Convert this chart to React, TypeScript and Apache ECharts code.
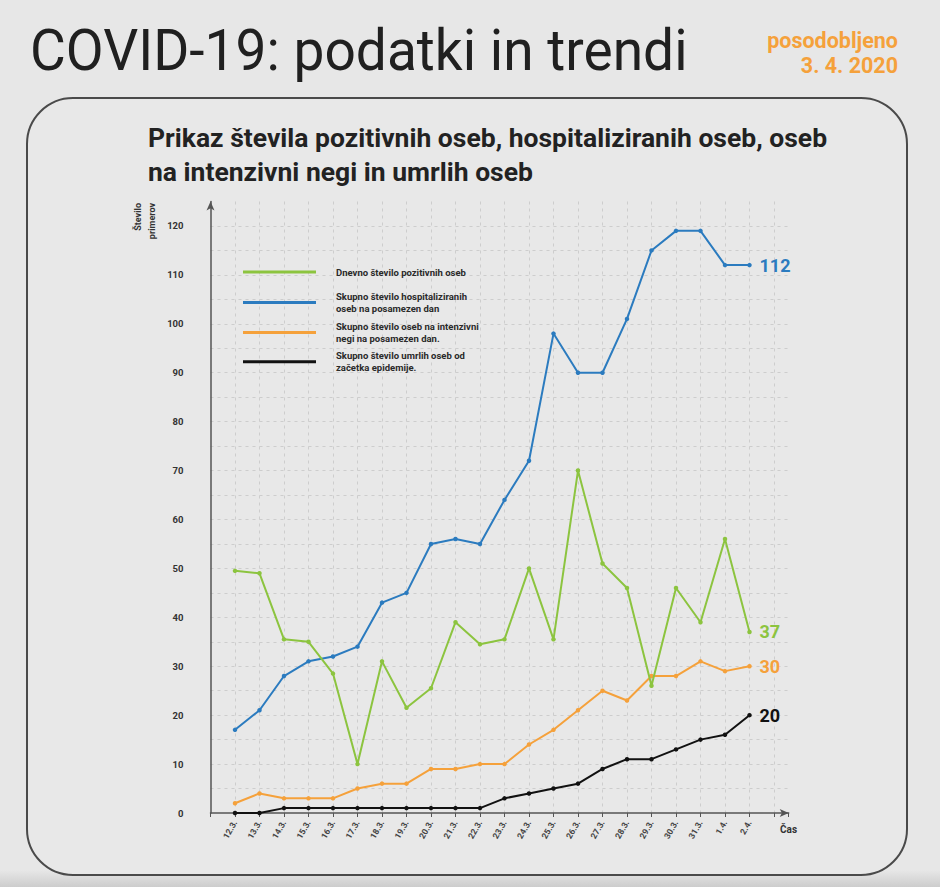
import React, { useEffect, useRef } from "react";
import * as echarts from "echarts";

const categories = ["12.3.", "13.3.", "14.3.", "15.3.", "16.3.", "17.3.", "18.3.", "19.3.", "20.3.", "21.3.", "22.3.", "23.3.", "24.3.", "25.3.", "26.3.", "27.3.", "28.3.", "29.3.", "30.3.", "31.3.", "1.4.", "2.4."];
const positive = [49.5, 49, 35.5, 35, 28.5, 10, 31, 21.5, 25.5, 39, 34.5, 35.5, 50, 35.5, 70, 51, 46, 26, 46, 39, 56, 37];
const hospitalized = [17, 21, 28, 31, 32, 34, 43, 45, 55, 56, 55, 64, 72, 98, 90, 90, 101, 115, 119, 119, 112, 112];
const icu = [2, 4, 3, 3, 3, 5, 6, 6, 9, 9, 10, 10, 14, 17, 21, 25, 23, 28, 28, 31, 29, 30];
const deaths = [0, 0, 1, 1, 1, 1, 1, 1, 1, 1, 1, 3, 4, 5, 6, 9, 11, 11, 13, 15, 16, 20];

const seriesNames = [
  "Dnevno število pozitivnih oseb",
  "Skupno število hospitaliziranih\noseb na posamezen dan",
  "Skupno število oseb na intenzivni\nnegi na posamezen dan.",
  "Skupno število umrlih oseb od\nzačetka epidemije.",
];
const seriesColors = ["#8cc43f", "#2b7bbf", "#f5a13b", "#111111"];
const seriesData = [positive, hospitalized, icu, deaths];

const mainTitle = "COVID-19: podatki in trendi";
const updatedText = "posodobljeno\n3. 4. 2020";
const chartTitle = "Prikaz števila pozitivnih oseb, hospitaliziranih oseb, oseb\nna intenzivni negi in umrlih oseb";
const yAxisTitle = "Število\nprimerov";
const xAxisTitle = "Čas";

const FONT = "Roboto";

export default function App() {
  const ref = useRef<HTMLDivElement>(null);
  useEffect(() => {
    document.body.style.margin = "0";
    const chart = echarts.init(ref.current as HTMLDivElement, null, { renderer: "svg" });
    const legendTops = [266, 290.5, 320.5, 349.7];
    const option: any = {
      animation: false,
      backgroundColor: "#e7e7e7",
      textStyle: { fontFamily: FONT },
      graphic: [
        {
          type: "rect",
          z: -10,
          shape: { x: 0, y: 870, width: 940, height: 17 },
          style: {
            fill: new echarts.graphic.LinearGradient(0, 0, 0, 1, [
              { offset: 0, color: "#e7e7e7" },
              { offset: 1, color: "#cdcdcd" },
            ]),
          },
        },
        {
          type: "rect",
          z: -5,
          shape: { x: 27, y: 98, width: 880, height: 777, r: 46 },
          style: { fill: "#e8e8e8", stroke: "#4a4a4a", lineWidth: 2 },
        },
        {
          type: "text",
          x: 30,
          y: 51,
          scaleX: 0.95,
          style: {
            text: mainTitle,
            fontFamily: FONT,
            fontSize: 58,
            fontWeight: "normal",
            fill: "#202020",
            textAlign: "left",
            textVerticalAlign: "middle",
          },
        },
        {
          type: "text",
          x: 898,
          y: 53,
          style: {
            text: updatedText,
            fontFamily: FONT,
            fontSize: 21.5,
            fontWeight: "bold",
            lineHeight: 25,
            fill: "#f5a13b",
            textAlign: "right",
            textVerticalAlign: "middle",
          },
        },
        {
          type: "text",
          x: 148,
          y: 155,
          scaleX: 1.06,
          style: {
            text: chartTitle,
            fontFamily: FONT,
            fontSize: 25,
            fontWeight: "bold",
            lineHeight: 34,
            fill: "#222222",
            textAlign: "left",
            textVerticalAlign: "middle",
          },
        },
        {
          type: "text",
          x: 145,
          y: 203,
          rotation: Math.PI / 2,
          style: {
            text: yAxisTitle,
            fontFamily: FONT,
            fontSize: 9,
            fontWeight: "bold",
            lineHeight: 14,
            fill: "#333333",
            textAlign: "right",
            textVerticalAlign: "middle",
          },
        },
        {
          type: "text",
          x: 780,
          y: 829,
          style: {
            text: xAxisTitle,
            fontFamily: FONT,
            fontSize: 10,
            fontWeight: "bold",
            fill: "#333333",
            textAlign: "left",
            textVerticalAlign: "middle",
          },
        },
      ],
      legend: seriesNames.map((name, i) => ({
        orient: "vertical",
        left: 243,
        top: legendTops[i],
        padding: 0,
        itemWidth: 73,
        itemHeight: 3,
        icon: "rect",
        selectedMode: false,
        data: [name],
        textStyle: {
          fontFamily: FONT,
          fontSize: 9.5,
          fontWeight: "bold",
          color: "#2a2a2a",
          lineHeight: 12,
          padding: [0, 0, 0, 15],
        },
      })),
      grid: { left: 210.5, right: 151.3, top: 201.5, bottom: 74, containLabel: false },
      xAxis: {
        type: "value",
        min: -1,
        max: 22.6,
        interval: 1,
        axisLine: {
          show: true,
          onZero: false,
          symbol: ["none", "arrow"],
          symbolSize: [6, 9],
          lineStyle: { color: "#555555", width: 1.5 },
        },
        axisTick: { show: true, length: 4, lineStyle: { color: "#555555" } },
        axisLabel: {
          rotate: 60,
          fontSize: 8.5,
          fontWeight: "bold",
          color: "#444444",
          margin: 8,
          formatter: (v: number) => (Number.isInteger(v) && v >= 0 && v < categories.length ? categories[v] : ""),
        },
        splitLine: {
          show: true,
          showMinLine: false,
          showMaxLine: false,
          lineStyle: { color: "#cdcdcd", type: [3, 4], width: 1 },
        },
      },
      yAxis: {
        type: "value",
        min: 0,
        max: 125,
        interval: 5,
        axisLine: {
          show: true,
          onZero: false,
          symbol: ["none", "arrow"],
          symbolSize: [6, 9],
          lineStyle: { color: "#555555", width: 1.5 },
        },
        axisTick: { show: false },
        axisLabel: {
          fontSize: 9.5,
          fontWeight: "bold",
          color: "#333333",
          margin: 27,
          formatter: (v: number) => (v % 10 === 0 ? String(v) : ""),
        },
        splitLine: {
          show: true,
          showMinLine: false,
          showMaxLine: false,
          lineStyle: { color: "#cdcdcd", type: [3, 4], width: 1 },
        },
      },
      series: seriesNames.map((name, i) => ({
        name,
        type: "line",
        data: seriesData[i].map((v, k) => [k, v]),
        color: seriesColors[i],
        symbol: "circle",
        symbolSize: 4.5,
        lineStyle: { width: 2, color: seriesColors[i] },
        itemStyle: { color: seriesColors[i] },
        z: 10 - i,
        endLabel: {
          show: true,
          distance: 10,
          fontFamily: FONT,
          fontSize: 18,
          fontWeight: "bold",
          color: seriesColors[i],
          formatter: (p: any) => String(p.value[1]),
        },
      })),
    };
    chart.setOption(option);
    return () => chart.dispose();
  }, []);
  return <div ref={ref} style={{ width: 940, height: 887 }} />;
}
